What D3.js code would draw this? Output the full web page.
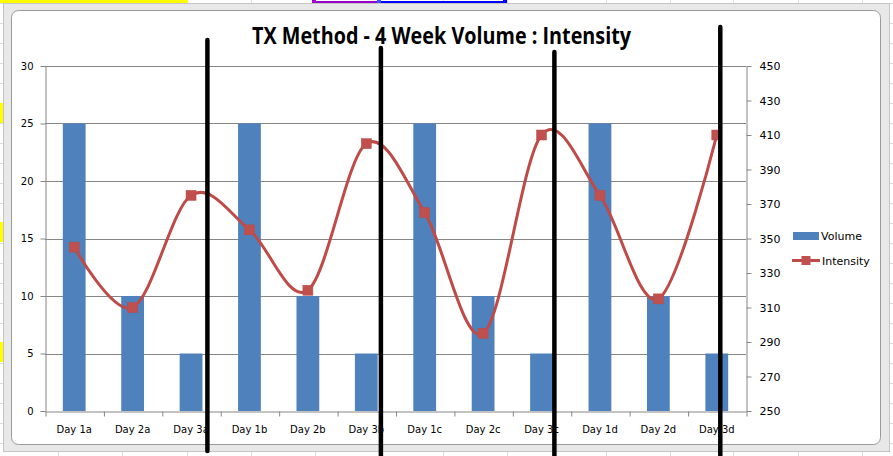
<!DOCTYPE html>
<html><head><meta charset="utf-8">
<script src="https://cdn.jsdelivr.net/npm/d3@7"></script>
<style>
html,body{margin:0;padding:0;background:#fff;}
svg{display:block;}
</style></head>
<body>
<svg id="c" width="893" height="456"></svg>
<script>
// ---- data ----
const categories = ["Day 1a","Day 2a","Day 3a","Day 1b","Day 2b","Day 3b","Day 1c","Day 2c","Day 3c","Day 1d","Day 2d","Day 3d"];
const volume = [25,10,5,25,10,5,25,10,5,25,10,5];
const intensity = [345,310,375,355,320,405,365,295,410,375,315,410];
const leftTicks = [0,5,10,15,20,25,30];
const rightTicks = [250,270,290,310,330,350,370,390,410,430,450];
const title = "TX Method - 4 Week Volume : Intensity";
const seriesNames = ["Volume","Intensity"];
const weekEnds = ["Day 3a","Day 3b","Day 3c","Day 3d"];

// ---- layout ----
const W = 893, H = 456;
const P = {l:45, r:746, t:66, b:411};
const svg = d3.select("#c");
const font = "DejaVu Sans, Verdana, sans-serif";

// spreadsheet background
const bg = svg.append("g");
[58,122,187,251,315,379,443,507,606,670,733,798,862].forEach(x=>{
  bg.append("line").attr("x1",x+0.5).attr("x2",x+0.5).attr("y1",0).attr("y2",H).attr("stroke","#dadcdd");
});
d3.range(3,H,20).forEach(y=>{
  bg.append("line").attr("x1",0).attr("x2",W).attr("y1",y+0.5).attr("y2",y+0.5).attr("stroke","#dadcdd");
});
bg.append("rect").attr("x",0).attr("y",0).attr("width",188).attr("height",3).attr("fill","#ffff00");
[103,222,342].forEach(y=>bg.append("rect").attr("x",0).attr("y",y).attr("width",4).attr("height",20).attr("fill","#ffff00"));
// range highlight marks
bg.append("line").attr("x1",314).attr("x2",379).attr("y1",2).attr("y2",2).attr("stroke","#9900cc").attr("stroke-width",2);
bg.append("line").attr("x1",379).attr("x2",505).attr("y1",2).attr("y2",2).attr("stroke","#0000ff").attr("stroke-width",2);
[[314,"#9900cc"],[379,"#3355ff"],[505,"#0000ff"]].forEach(([x,c])=>{
  bg.append("rect").attr("x",x-2).attr("y",0).attr("width",4).attr("height",4).attr("fill",c);
});

// chart frame
svg.append("rect").attr("x",3.5).attr("y",3.5).attr("width",886).attr("height",448).attr("fill","#e8e8e8").attr("stroke","#c4c4c4");
svg.append("rect").attr("x",11.5).attr("y",10.5).attr("width",869).attr("height",434).attr("rx",7)
  .attr("fill","#fff").attr("stroke","#9a9a9a");

// ---- scales ----
const xStep = d3.scaleBand().domain(categories).range([P.l,P.r]).padding(0);
const xBar = d3.scaleBand().domain(categories).range([P.l,P.r]).paddingInner(0.61).paddingOuter(0.305);
const yL = d3.scaleLinear().domain([0,30]).range([P.b,P.t]);
const yR = d3.scaleLinear().domain([250,450]).range([P.b,P.t]);
const cx = c => xStep(c) + xStep.bandwidth()/2;

// gridlines
svg.append("g").selectAll("line").data(leftTicks.slice(1)).join("line")
  .attr("x1",P.l).attr("x2",P.r).attr("y1",d=>Math.round(yL(d))+0.5).attr("y2",d=>Math.round(yL(d))+0.5)
  .attr("stroke","#868686");

// bars
svg.append("g").selectAll("rect").data(categories).join("rect")
  .attr("x",(c)=>xBar(c)).attr("width",xBar.bandwidth())
  .attr("y",(c,i)=>yL(volume[i])).attr("height",(c,i)=>P.b-yL(volume[i]))
  .attr("fill","#4f81bd");

// axes
function styleAxis(g){
  g.selectAll(".domain").attr("stroke","#868686");
  g.selectAll(".tick line").attr("stroke","#868686");
  g.selectAll("text").attr("fill","#000").style("font-family",font);
}
const gl = svg.append("g").attr("transform",`translate(${P.l+0.5},0)`)
  .call(d3.axisLeft(yL).tickValues(leftTicks).tickSize(5).tickPadding(7).tickSizeOuter(0));
gl.selectAll("text").style("font-size","10px");
styleAxis(gl);
const gr = svg.append("g").attr("transform",`translate(${P.r+0.5},0)`)
  .call(d3.axisRight(yR).tickValues(rightTicks).tickSize(5).tickPadding(8).tickSizeOuter(0));
gr.selectAll("text").style("font-size","11px");
styleAxis(gr);
// x axis
const xIdx = d3.scaleLinear().domain([0,categories.length]).range([P.l,P.r]);
const gxTicks = svg.append("g").attr("transform",`translate(0,${P.b+0.5})`)
  .call(d3.axisBottom(xIdx).tickValues(d3.range(0,categories.length+1)).tickSize(5).tickFormat("").tickSizeOuter(0));
styleAxis(gxTicks);
gxTicks.selectAll(".tick line").attr("transform","translate(0.5,0)");
const gx = svg.append("g").attr("transform",`translate(0,${P.b})`)
  .call(d3.axisBottom(xStep).tickSize(0).tickPadding(15));
gx.select(".domain").remove();
gx.selectAll("text").style("font-size","10px").style("font-family",font).attr("fill","#000");

// intensity line
const pts = categories.map((c,i)=>[cx(c), yR(intensity[i])]);
svg.append("path").attr("d",d3.line().curve(d3.curveCardinal.tension(0))(pts))
  .attr("fill","none").attr("stroke","#be4b48").attr("stroke-width",3).attr("stroke-linejoin","round");
const ms = 10;
svg.append("g").selectAll("rect").data(pts).join("rect")
  .attr("x",d=>d[0]-ms/2).attr("y",d=>d[1]-ms/2).attr("width",ms).attr("height",ms)
  .attr("fill","#c0504d").attr("stroke","#b94a47").attr("stroke-width",0.5);

// title
svg.append("text").attr("x",441.5).attr("y",44).attr("text-anchor","middle")
  .attr("textLength",379).attr("lengthAdjust","spacingAndGlyphs")
  .style("font-family","Liberation Sans Narrow, Open Sans, Liberation Sans, sans-serif")
  .style("font-weight","bold").style("font-size","23px").attr("fill","#000").text(title);

// legend
const lg = svg.append("g");
lg.append("rect").attr("x",793).attr("y",232).attr("width",26).attr("height",8).attr("fill","#4f81bd");
lg.append("text").attr("x",821).attr("y",240).style("font-family",font).style("font-size","11px").text(seriesNames[0]);
lg.append("line").attr("x1",792).attr("x2",820).attr("y1",260.5).attr("y2",260.5).attr("stroke","#be4b48").attr("stroke-width",3);
lg.append("rect").attr("x",801.5).attr("y",256).attr("width",9).attr("height",9).attr("fill","#c0504d");
lg.append("text").attr("x",822).attr("y",264.5).style("font-family",font).style("font-size","11px").text(seriesNames[1]);

// hand-drawn week separators (annotation)
const sepOffset = [0.28,0.25,0.22,0.06];
const sepTop = [40,48,52,27];
const sepBottom = [451,458,458,458];
svg.append("g").selectAll("line").data(weekEnds).join("line")
  .attr("x1",(c,i)=>cx(c)+sepOffset[i]*xStep.bandwidth())
  .attr("x2",(c,i)=>cx(c)+sepOffset[i]*xStep.bandwidth())
  .attr("y1",(c,i)=>sepTop[i]).attr("y2",(c,i)=>sepBottom[i])
  .attr("stroke","#000").attr("stroke-width",4.5).attr("stroke-linecap","round");
</script>
</body></html>
